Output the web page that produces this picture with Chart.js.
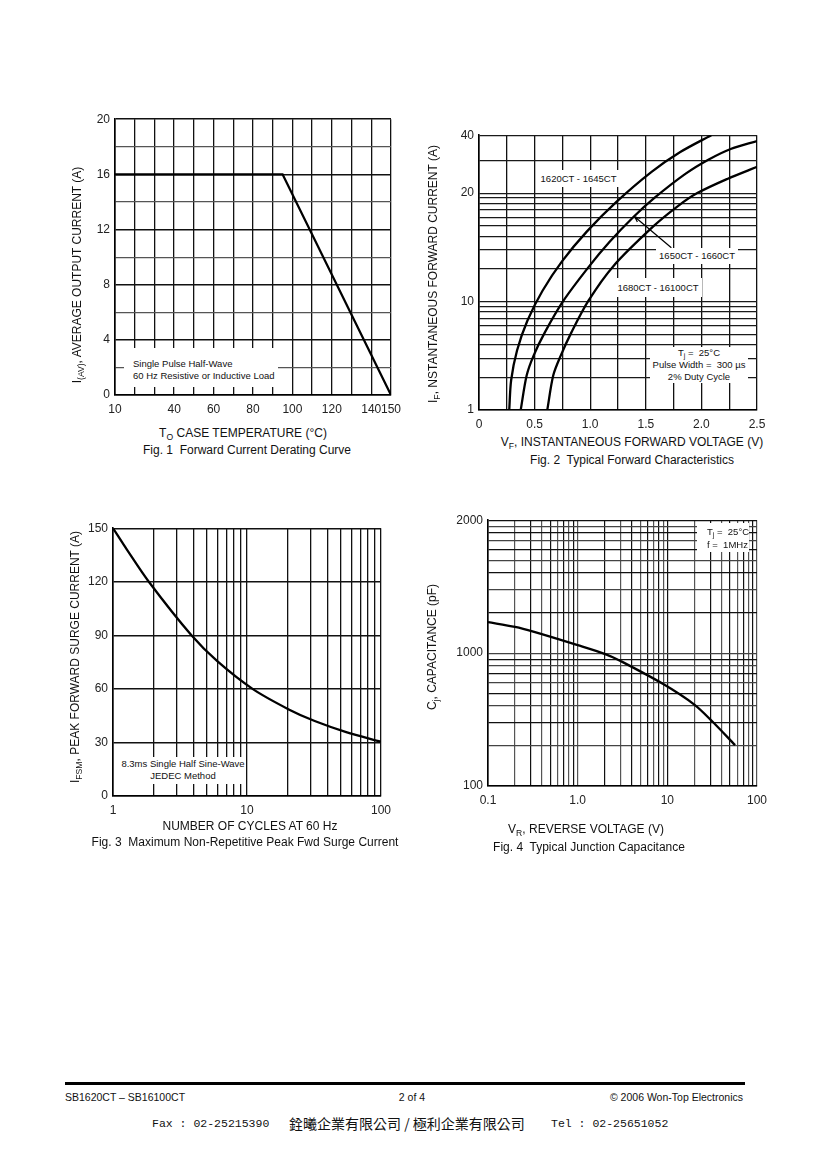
<!DOCTYPE html>
<html>
<head>
<meta charset="utf-8">
<script src="https://cdn.jsdelivr.net/npm/chart.js@4.4.1/dist/chart.umd.min.js"></script>
<style>
body { margin: 0; background: #fff; }
#page { position: relative; width: 820px; height: 1160px; font-family: 'Liberation Sans', Arial, sans-serif; color: #111; overflow: hidden; }
#page canvas { position: absolute; }
.t { position: absolute; white-space: pre; font-size: 12px; transform: translate(-50%, -50%); }
.yt { position: absolute; white-space: pre; font-size: 12px; transform: translate(-50%, -50%) rotate(-90deg); }
.note { position: absolute; background: #fff; font-size: 9.5px; line-height: 11.5px; box-sizing: border-box; white-space: pre; }
sub { font-size: 0.72em; vertical-align: -0.35em; line-height: 0; }
.foot { position: absolute; font-size: 10.5px; white-space: pre; transform: translateY(-50%); }
.cn { position: absolute; top: 1123px; transform: translateY(-50%); white-space: pre; font-size: 12px; }
</style>
</head>
<body>
<div id="page">
  <canvas id="fig1" width="341" height="313" style="left:70px;top:107px"></canvas>
  <canvas id="fig2" width="338" height="312" style="left:439px;top:123px"></canvas>
  <canvas id="fig3" width="333" height="305" style="left:68px;top:516px"></canvas>
  <canvas id="fig4" width="339" height="303" style="left:438px;top:508px"></canvas>

  <!-- Fig. 1 texts -->
  <div class="note" style="left:124px;top:348px;width:154px;height:39px;padding:10px 0 0 9px">Single Pulse Half-Wave
60 Hz Resistive or Inductive Load</div>
  <div class="yt" style="left:77px;top:275px">I<sub>(AV)</sub>, AVERAGE OUTPUT CURRENT (A)</div>
  <div class="t" style="left:243px;top:433px">T<sub>O</sub> CASE TEMPERATURE (°C)</div>
  <div class="t" style="left:247px;top:450px">Fig. 1  Forward Current Derating Curve</div>

  <!-- Fig. 2 texts -->
  <div class="note" style="left:537px;top:170px;width:83px;height:17px;line-height:17px;text-align:center">1620CT - 1645CT</div>
  <div class="note" style="left:656px;top:248px;width:82px;height:16px;line-height:16px;text-align:center">1650CT - 1660CT</div>
  <div class="note" style="left:614px;top:278px;width:88px;height:19px;line-height:19px;text-align:center">1680CT - 16100CT</div>
  <div class="note" style="left:650px;top:347px;width:98px;height:36px;line-height:11.8px;text-align:center">T<sub>j</sub> =  25°C
Pulse Width =  300 µs
2% Duty Cycle</div>
  <div class="yt" style="left:433px;top:274px">I<sub>F</sub>, NSTANTANEOUS FORWARD CURRENT (A)</div>
  <div class="t" style="left:632px;top:442px">V<sub>F</sub>, INSTANTANEOUS FORWARD VOLTAGE (V)</div>
  <div class="t" style="left:632px;top:460px">Fig. 2  Typical Forward Characteristics</div>

  <!-- Fig. 3 texts -->
  <div class="note" style="left:120px;top:757px;width:126px;height:27px;padding-top:1px;text-align:center">8.3ms Single Half Sine-Wave
JEDEC Method</div>
  <div class="yt" style="left:75px;top:657px">I<sub>FSM</sub>, PEAK FORWARD SURGE CURRENT (A)</div>
  <div class="t" style="left:250px;top:826px">NUMBER OF CYCLES AT 60 Hz</div>
  <div class="t" style="left:245px;top:842px">Fig. 3  Maximum Non-Repetitive Peak Fwd Surge Current</div>

  <!-- Fig. 4 texts -->
  <div class="note" style="left:697px;top:523px;width:52px;height:29px;padding:2px 0 0 10px;line-height:13.3px">T<sub>j</sub> =  25°C
f =  1MHz</div>
  <div class="yt" style="left:432px;top:647px">C<sub>j</sub>, CAPACITANCE (pF)</div>
  <div class="t" style="left:586px;top:829px">V<sub>R</sub>, REVERSE VOLTAGE (V)</div>
  <div class="t" style="left:589px;top:847px">Fig. 4  Typical Junction Capacitance</div>

  <!-- footer -->
  <div style="position:absolute;left:65px;top:1082px;width:680px;height:2.5px;background:#000"></div>
  <div class="foot" style="left:65px;top:1097px">SB1620CT – SB16100CT</div>
  <div class="foot" style="left:412px;top:1097px;transform:translate(-50%,-50%)">2 of 4</div>
  <div class="foot" style="right:77px;top:1097px">© 2006 Won-Top Electronics</div>
  <div class="cn" style="left:152px;font-family:'Liberation Mono',monospace;font-size:11.5px">Fax : 02-25215390</div>
  <div class="cn" style="left:289px;font-family:'Noto Sans CJK TC',serif;font-size:14px">銓曦企業有限公司 / 極利企業有限公司</div>
  <div class="cn" style="left:551px;font-family:'Liberation Mono',monospace;font-size:11.5px">Tel : 02-25651052</div>
</div>

<script>
// Fig. 1 - derating curve
const caseTemp = [10, 95, 150];
const avgCurrent = [16, 16, 0];
const fig1XLabels = [10, 40, 60, 80, 100, 120, 140, 150];
const fig1YLabels = [0, 4, 8, 12, 16, 20];

// Fig. 2 - forward characteristics (current in A as labelled on the axis)
const vf1620 = [0.272, 0.289, 0.342, 0.435, 0.570, 0.748, 0.971, 1.238, 1.552, 1.810, 2.089];
const if1620 = [1, 1.88, 3.54, 6.66, 10.7, 12.95, 15.66, 18.94, 25.8, 32.7, 40];
const vf1650 = [0.375, 0.429, 0.492, 0.591, 0.758, 0.992, 1.175, 1.391, 1.580, 1.859, 2.066, 2.263, 2.50];
const if1650 = [1, 2.09, 3.19, 5.17, 10.04, 12.54, 14.65, 17.19, 19.42, 25.24, 29.91, 33.93, 37.31];
const vf1680 = [0.614, 0.668, 0.736, 0.830, 0.983, 1.208, 1.567, 1.783, 1.963, 2.233, 2.50];
const if1680 = [1, 2.09, 3.19, 5.17, 10.04, 12.54, 16.16, 18.35, 20.0, 23.7, 27.4];
const fig2XLabels = [0, 0.5, 1.0, 1.5, 2.0, 2.5];
const fig2XText = ['0', '0.5', '1.0', '1.5', '2.0', '2.5'];
const fig2YLabels = [1, 10, 20, 40];
const leaderFrom = {x: 1.40, y: 17.2};
const leaderTo = {x: 1.73, y: 14.1};

// Fig. 3 - surge current
const surgeCycles = [1, 1.27, 1.85, 3.85, 6, 11, 20.5, 32, 55, 100];
const surgeCurrent = [150, 138, 120, 90, 75.5, 60, 48.5, 42, 35.8, 30.4];
const fig3XLabels = [1, 10, 100];
const fig3YLabels = [0, 30, 60, 90, 120, 150];

// Fig. 4 - junction capacitance
const reverseVolts = [0.1, 0.2, 0.32, 1.0, 2.1, 3.0, 9.0, 20, 31, 57];
const junctionCap = [1175, 1146, 1118, 1042, 975, 873, 585, 410, 311, 203];
const fig4XLabels = [0.1, 1, 10, 100];
const fig4XText = ['0.1', '1.0', '10', '100'];
const fig4YLabels = [100, 1000, 2000];

// the printed grids are log paper with one full decade between 10-20 (fig 2) and 1000-2000 (fig 4)
const FIG2_TOP = 342;
function toPaper2(v) {
    if (v <= 10) return v;
    if (v <= 20) return 10 * Math.pow(10, Math.log2(v / 10));
    return 100 * Math.pow(10, Math.log10(FIG2_TOP / 100) * Math.log2(v / 20));
}
function toPaper4(v) {
    if (v <= 1000) return v;
    return 1000 * Math.pow(10, Math.log2(v / 1000));
}

function near(a, b) {
    return Math.abs(a - b) < 1e-6 * Math.max(1, Math.abs(b));
}
function labelAt(values, texts) {
    return function(v) {
        const i = values.findIndex(t => near(t, v));
        return i < 0 ? '' : texts[i];
    };
}
function logTicks(from, to, extra) {
    const out = [];
    for (let d = from; d < to; d *= 10) {
        for (let k = 1; k < 10; k++) out.push(Number((k * d).toPrecision(6)));
    }
    out.push(to);
    return extra ? out.concat(extra) : out;
}
function points(xs, ys, map) {
    return xs.map((x, i) => ({x: x, y: map ? map(ys[i]) : ys[i]}));
}

Chart.defaults.font.family = "'Liberation Sans', Arial, sans-serif";
Chart.defaults.font.size = 12;
Chart.defaults.color = '#222';

function curve(data, tension) {
    return {data: data, borderColor: '#000', borderWidth: 2.3, pointRadius: 0, tension: tension, fill: false};
}

function axis(isX, size, opts, gridColor, gridWidth) {
    const a = {
        border: {display: true, color: '#000', width: 1.6},
        grid: {drawTicks: false, color: gridColor || '#111', lineWidth: gridWidth || 1.3},
        ticks: {autoSkip: false, maxRotation: 0, padding: isX ? 7 : 5, color: '#222', font: {size: 12}},
        afterFit: isX ? (s => { s.height = size; }) : (s => { s.width = size; })
    };
    Object.keys(opts).forEach(k => {
        if (k === 'ticks') Object.assign(a.ticks, opts.ticks);
        else a[k] = opts[k];
    });
    return a;
}

function baseOptions(x, y) {
    return {
        responsive: false,
        animation: false,
        events: [],
        layout: {padding: {left: 0, top: 10, right: 20, bottom: 0}},
        plugins: {legend: {display: false}, tooltip: {enabled: false}},
        scales: {x: x, y: y}
    };
}

// Fig. 1
new Chart(document.getElementById('fig1'), {
    type: 'line',
    data: {datasets: [curve(points(caseTemp, avgCurrent), 0)]},
    options: baseOptions(
        axis(true, 25, {type: 'linear', min: 10, max: 150,
            ticks: {stepSize: 10, callback: labelAt(fig1XLabels, fig1XLabels.map(String))}}),
        axis(false, 45, {type: 'linear', min: 0, max: 20,
            ticks: {stepSize: 2, callback: labelAt(fig1YLabels, fig1YLabels.map(String))}},
            c => (c.tick && c.tick.value % 4 === 0) ? '#111' : '#555',
            c => (c.tick && c.tick.value % 4 === 0) ? 1.6 : 1.2)
    )
});

// Fig. 2
const leaderPlugin = {
    id: 'leader',
    afterDatasetsDraw(chart) {
        const xs = chart.scales.x, ys = chart.scales.y, ctx = chart.ctx;
        const x1 = xs.getPixelForValue(leaderFrom.x), y1 = ys.getPixelForValue(toPaper2(leaderFrom.y));
        const x2 = xs.getPixelForValue(leaderTo.x), y2 = ys.getPixelForValue(toPaper2(leaderTo.y));
        const a = Math.atan2(y2 - y1, x2 - x1);
        ctx.save();
        ctx.strokeStyle = '#000';
        ctx.lineWidth = 1.2;
        ctx.beginPath();
        ctx.moveTo(x1, y1);
        ctx.lineTo(x2, y2);
        ctx.moveTo(x1 + 6 * Math.cos(a - 0.4), y1 + 6 * Math.sin(a - 0.4));
        ctx.lineTo(x1, y1);
        ctx.lineTo(x1 + 6 * Math.cos(a + 0.4), y1 + 6 * Math.sin(a + 0.4));
        ctx.stroke();
        ctx.restore();
    }
};

new Chart(document.getElementById('fig2'), {
    type: 'line',
    data: {datasets: [
        curve(points(vf1620, if1620, toPaper2), 0.3),
        curve(points(vf1650, if1650, toPaper2), 0.3),
        curve(points(vf1680, if1680, toPaper2), 0.3)
    ]},
    options: baseOptions(
        axis(true, 25, {type: 'linear', min: 0, max: 2.5,
            ticks: {stepSize: 0.25, callback: labelAt(fig2XLabels, fig2XText)}}, '#111', 1.3),
        axis(false, 40, {type: 'logarithmic', min: 1, max: FIG2_TOP,
            afterBuildTicks: s => { s.ticks = logTicks(1, 100, [200, FIG2_TOP]).map(v => ({value: v})); },
            ticks: {callback: labelAt(fig2YLabels.map(toPaper2), fig2YLabels.map(String))}},
            '#1a1a1a', 1.15)
    ),
    plugins: [leaderPlugin]
});

// Fig. 3
new Chart(document.getElementById('fig3'), {
    type: 'line',
    data: {datasets: [curve(points(surgeCycles, surgeCurrent), 0.3)]},
    options: baseOptions(
        axis(true, 25, {type: 'logarithmic', min: 1, max: 100,
            afterBuildTicks: s => { s.ticks = logTicks(1, 100).map(v => ({value: v})); },
            ticks: {callback: labelAt(fig3XLabels, fig3XLabels.map(String))}}, '#111', 1.3),
        axis(false, 45, {type: 'linear', min: 0, max: 150,
            ticks: {stepSize: 30, callback: labelAt(fig3YLabels, fig3YLabels.map(String))}}, '#111', 1.4)
    )
});

// Fig. 4
new Chart(document.getElementById('fig4'), {
    type: 'line',
    data: {datasets: [curve(points(reverseVolts, junctionCap, toPaper4), 0.3)]},
    options: baseOptions(
        axis(true, 25, {type: 'logarithmic', min: 0.1, max: 100,
            afterBuildTicks: s => { s.ticks = logTicks(0.1, 100).map(v => ({value: v})); },
            ticks: {callback: labelAt(fig4XLabels, fig4XText)}},
            c => (c.index % 2) ? '#555' : '#111', 1.2),
        axis(false, 50, {type: 'logarithmic', min: 100, max: toPaper4(2000),
            afterBuildTicks: s => { s.ticks = logTicks(100, toPaper4(2000)).map(v => ({value: v})); },
            ticks: {callback: labelAt(fig4YLabels.map(toPaper4), fig4YLabels.map(String))}},
            c => (c.index % 2) ? '#444' : '#111', 1.2)
    )
});
</script>
</body>
</html>
